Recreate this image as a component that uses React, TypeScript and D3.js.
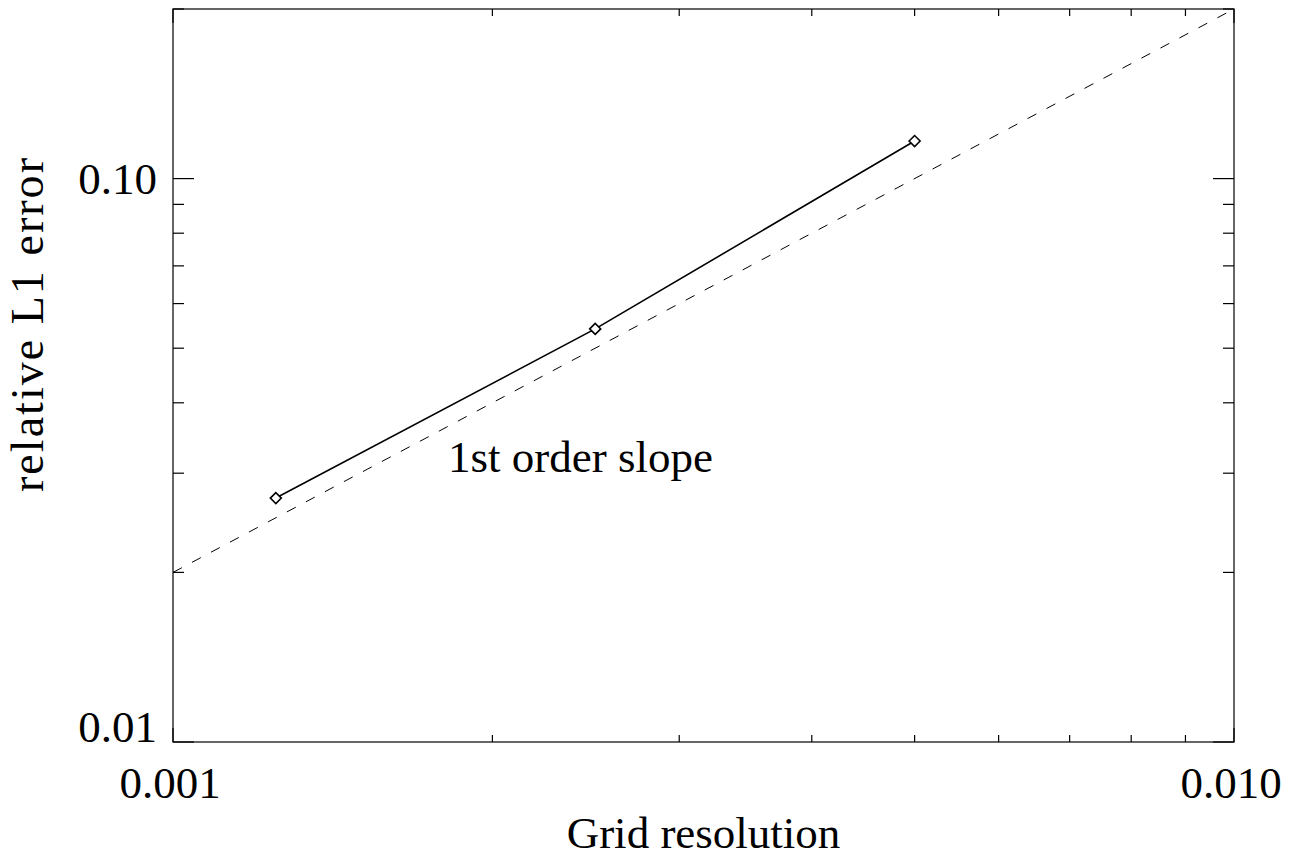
import React from "react";
import * as d3 from "d3";

const gridResolution = [0.00125, 0.0025, 0.005];
const relativeL1Error = [0.0271, 0.0541, 0.1166];
const slopeX = [0.001, 0.01];
const slopeY = [0.02, 0.2];
const xTickValues = [0.001, 0.002, 0.003, 0.004, 0.005, 0.006, 0.007, 0.008, 0.009, 0.01];
const xTickLabels = ["0.001", "", "", "", "", "", "", "", "", "0.010"];
const yTickValues = [0.01, 0.02, 0.03, 0.04, 0.05, 0.06, 0.07, 0.08, 0.09, 0.1, 0.2];
const yTickLabels = ["0.01", "", "", "", "", "", "", "", "", "0.10", ""];
const xTitle = "Grid resolution";
const yTitle = "relative L1 error";
const annotation = "1st order slope";

const W = 1306;
const H = 860;
const M = { left: 173, right: 1234, top: 9, bottom: 742 };
const FONT = "'Liberation Serif', 'Times New Roman', Times, serif";

export default function App() {
  const x = d3.scaleLog().domain([0.001, 0.01]).range([M.left, M.right]);
  const y = d3.scaleLog().domain([0.01, 0.2]).range([M.bottom, M.top]);

  const line = d3
    .line<number>()
    .x((_, i) => x(gridResolution[i]))
    .y((d) => y(d));
  const slopeLine = d3
    .line<number>()
    .x((_, i) => x(slopeX[i]))
    .y((d) => y(d));

  const isXMajor = (i: number) => xTickLabels[i] !== "";
  const isYMajor = (i: number) => yTickLabels[i] !== "";

  return (
    <svg
      width={W}
      height={H}
      style={{ position: "absolute", left: 0, top: 0, background: "#fff" }}
      fontFamily={FONT}
    >
      <rect x={0} y={0} width={W} height={H} fill="#fff" />
      {/* axes box */}
      <rect
        x={M.left}
        y={M.top}
        width={M.right - M.left}
        height={M.bottom - M.top}
        fill="none"
        stroke="#000"
        strokeWidth={1.2}
      />
      {/* x ticks (bottom & top) */}
      {xTickValues.map((v, i) => {
        const len = isXMajor(i) ? 14 : 7;
        const px = x(v);
        return (
          <g key={"xt" + i}>
            <line x1={px} x2={px} y1={M.bottom} y2={M.bottom - len} stroke="#000" strokeWidth={1.2} />
            <line x1={px} x2={px} y1={M.top} y2={M.top + len} stroke="#000" strokeWidth={1.2} />
          </g>
        );
      })}
      {/* y ticks (left & right) */}
      {yTickValues.map((v, i) => {
        const len = isYMajor(i) ? 21 : 11;
        const py = y(v);
        return (
          <g key={"yt" + i}>
            <line x1={M.left} x2={M.left + len} y1={py} y2={py} stroke="#000" strokeWidth={1.2} />
            <line x1={M.right} x2={M.right - len} y1={py} y2={py} stroke="#000" strokeWidth={1.2} />
          </g>
        );
      })}
      {/* x tick labels */}
      {xTickValues.map((v, i) =>
        xTickLabels[i] ? (
          <text
            key={"xl" + i}
            x={x(v) - 3}
            y={798}
            fontSize={45}
            textAnchor="middle"
            fill="#000"
          >
            {xTickLabels[i]}
          </text>
        ) : null
      )}
      {/* y tick labels */}
      {yTickValues.map((v, i) =>
        yTickLabels[i] ? (
          <text
            key={"yl" + i}
            x={157}
            y={Math.min(y(v) + 15, M.bottom)}
            fontSize={45}
            textAnchor="end"
            fill="#000"
          >
            {yTickLabels[i]}
          </text>
        ) : null
      )}
      {/* titles */}
      <text x={(M.left + M.right) / 2} y={848} fontSize={45} textAnchor="middle" fill="#000">
        {xTitle}
      </text>
      <text
        transform={`translate(43, 325) rotate(-90)`}
        fontSize={46}
        textAnchor="middle"
        textLength={334}
        lengthAdjust="spacing"
        fill="#000"
      >
        {yTitle}
      </text>
      {/* slope line */}
      <path
        d={slopeLine(slopeY) || ""}
        fill="none"
        stroke="#000"
        strokeWidth={1}
        strokeDasharray="10,11.5"
      />
      {/* data line */}
      <path d={line(relativeL1Error) || ""} fill="none" stroke="#000" strokeWidth={1.6} />
      {relativeL1Error.map((v, i) => {
        const cx = x(gridResolution[i]);
        const cy = y(v);
        const r = 5.5;
        return (
          <path
            key={"pt" + i}
            d={`M${cx - r},${cy}L${cx},${cy - r}L${cx + r},${cy}L${cx},${cy + r}Z`}
            fill="#fff"
            stroke="#000"
            strokeWidth={1.6}
          />
        );
      })}
      <text x={448} y={472} fontSize={45} fill="#000">
        {annotation}
      </text>
    </svg>
  );
}
